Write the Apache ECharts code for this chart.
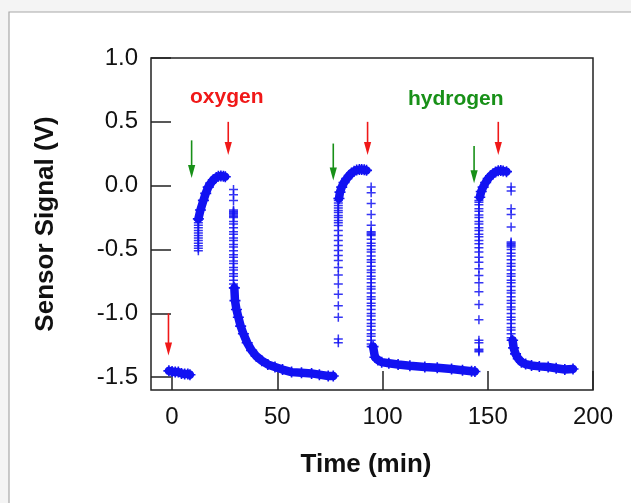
<!DOCTYPE html>
<html>
<head>
<meta charset="utf-8">
<script src="https://cdn.jsdelivr.net/npm/echarts@6/dist/echarts.min.js"></script>
<style>
html, body { margin: 0; padding: 0; background: #f4f4f4; }
#main { width: 631px; height: 503px; }
</style>
</head>
<body>
<div id="main"></div>
<script>
// axis ranges / ticks
var timeMin = -10, timeMax = 200;
var signalMin = -1.6, signalMax = 1.0;
var xTicks = [0, 50, 100, 150, 200];
var yTicks = [-1.5, -1.0, -0.5, 0.0, 0.5, 1.0];

// dense parts of the trace, [time (min), signal (V)]
var band1 = [[-1.5, -1.45], [0, -1.455], [1.5, -1.46], [3, -1.46], [4.5, -1.47], [6, -1.475], [7.5, -1.475], [8.5, -1.48]];
var band2 = [[12.5, -0.26], [13.5, -0.19], [14.9, -0.115], [16, -0.06], [17.2, -0.011], [18.4, 0.02], [19.6, 0.047], [21, 0.064], [22, 0.073], [23.2, 0.076], [24.4, 0.073], [25.3, 0.07]];
var band3 = [[29.6, -0.80], [29.9, -0.90], [30.6, -0.97], [31.5, -1.03], [32.6, -1.10], [33.9, -1.16], [35.7, -1.23], [37.8, -1.29], [40, -1.335], [42.6, -1.37], [45.5, -1.40], [48.9, -1.42], [52.5, -1.44], [56.8, -1.46], [61.5, -1.465], [66.3, -1.47], [70, -1.48], [74.2, -1.49], [76.6, -1.49]];
var band4 = [[79.3, -0.10], [79.8, -0.05], [80.6, -0.011], [81.7, 0.025], [83, 0.055], [84.2, 0.08], [85.3, 0.099], [86.5, 0.113], [87.7, 0.122], [89, 0.126], [90.1, 0.126], [91.3, 0.124], [92.4, 0.12]];
var band5 = [[95.5, -1.26], [96.4, -1.343], [97.8, -1.365], [99.6, -1.382], [103, -1.39], [107.4, -1.40], [113, -1.41], [120.1, -1.42], [126, -1.425], [132.8, -1.435], [138, -1.445], [142.3, -1.453], [143.9, -1.455]];
var band6 = [[146.2, -0.09], [146.9, -0.045], [147.8, -0.011], [149, 0.025], [150.2, 0.055], [151.3, 0.077], [152.5, 0.094], [153.7, 0.108], [155, 0.117], [156.2, 0.118], [157.3, 0.115], [158.9, 0.11]];
var band7 = [[161.8, -1.21], [162.3, -1.27], [163.2, -1.317], [164.5, -1.355], [166, -1.382], [168, -1.397], [170.8, -1.408], [174.5, -1.415], [178.7, -1.42], [182.5, -1.43], [186.6, -1.44], [190.5, -1.435]];

// single "+" marks in the fast steps, time of each column and its signal values
var step1Time = 12.5;
var step1 = [-0.51, -0.49, -0.47, -0.45, -0.43, -0.41, -0.39, -0.37, -0.35, -0.33, -0.31, -0.29, -0.27];
var step2Time = 29.2;
var step2 = [-0.03, -0.07, -0.115, -0.19, -0.20, -0.21, -0.22, -0.23, -0.24, -0.25, -0.28, -0.30, -0.33, -0.36, -0.38, -0.41, -0.43, -0.46, -0.48, -0.51, -0.54, -0.56, -0.59, -0.61, -0.64, -0.66, -0.69, -0.71, -0.74, -0.77, -0.80];
var step3Time = 79;
var step3 = [-1.23, -1.20, -1.03, -0.94, -0.85, -0.77, -0.70, -0.64, -0.585, -0.546, -0.507, -0.468, -0.429, -0.39, -0.35, -0.311, -0.29, -0.272, -0.25, -0.233, -0.21, -0.194, -0.175, -0.155, -0.135, -0.115, -0.10];
var step4Time = 94.6;
var step4 = [-0.01, -0.055, -0.14, -0.225, -0.31, -0.36, -0.37, -0.38, -0.39, -0.42, -0.45, -0.47, -0.50, -0.52, -0.55, -0.58, -0.60, -0.63, -0.66, -0.68, -0.71, -0.73, -0.76, -0.79, -0.81, -0.84, -0.87, -0.89, -0.92, -0.94, -0.97, -1.00, -1.02, -1.05, -1.08, -1.10, -1.13, -1.16, -1.18, -1.21, -1.24, -1.26];
var step5Time = 145.8;
var step5 = [-1.30, -1.29, -1.28, -1.23, -1.21, -1.05, -0.93, -0.83, -0.76, -0.703, -0.651, -0.599, -0.56, -0.52, -0.486, -0.455, -0.429, -0.40, -0.38, -0.35, -0.33, -0.30, -0.28, -0.25, -0.23, -0.20, -0.18, -0.15, -0.13, -0.115];
var step6Time = 161.1;
var step6 = [-0.01, -0.042, -0.18, -0.225, -0.324, -0.44, -0.45, -0.46, -0.47, -0.48, -0.50, -0.53, -0.55, -0.58, -0.61, -0.63, -0.66, -0.69, -0.71, -0.74, -0.76, -0.79, -0.82, -0.84, -0.87, -0.90, -0.92, -0.95, -0.97, -1.00, -1.03, -1.05, -1.08, -1.11, -1.13, -1.16, -1.19, -1.21];

// gas switching arrows
var arrowTime = [-1.7, 9.3, 26.7, 76.6, 92.9, 143.5, 155];
var arrowFrom = [-1.0, 0.355, 0.50, 0.33, 0.50, 0.31, 0.50];
var arrowTo = [-1.33, 0.06, 0.24, 0.04, 0.24, 0.02, 0.24];
var arrowGas = ['oxygen', 'hydrogen', 'oxygen', 'hydrogen', 'oxygen', 'hydrogen', 'oxygen'];

// gas labels
var gasNames = ['oxygen', 'hydrogen'];
var gasLabelTime = [26, 134.8];
var gasLabelSignal = [0.69, 0.674];
var gasColors = {oxygen: '#f01818', hydrogen: '#189018'};

var traceColor = '#1212f2';
var plusPath = 'path://M4,0L4,8M0,4L8,4';

var dom = document.getElementById('main');
var myChart = echarts.init(dom);

function column(t, values) {
    var out = [];
    for (var i = 0; i < values.length; i++) {
        out.push([t, values[i]]);
    }
    return out;
}

function bandSeries(data) {
    return {
        type: 'line',
        data: data,
        symbol: plusPath,
        symbolSize: 11,
        showSymbol: true,
        itemStyle: {color: traceColor, borderColor: traceColor, borderWidth: 1.6},
        lineStyle: {color: traceColor, width: 8.5, cap: 'round', join: 'round'},
        animation: false,
        z: 3
    };
}

var steps = [].concat(
    column(step1Time, step1),
    column(step2Time, step2),
    column(step3Time, step3),
    column(step4Time, step4),
    column(step5Time, step5),
    column(step6Time, step6)
);

var arrowData = [];
for (var i = 0; i < arrowTime.length; i++) {
    arrowData.push([arrowTime[i], arrowFrom[i], arrowTo[i], i]);
}
var labelData = [];
for (var j = 0; j < gasNames.length; j++) {
    labelData.push([gasLabelTime[j], gasLabelSignal[j], j]);
}

var series = [band1, band2, band3, band4, band5, band6, band7].map(bandSeries);
series.push({
    type: 'scatter',
    data: steps,
    symbol: plusPath,
    symbolSize: 9,
    itemStyle: {color: traceColor, borderColor: traceColor, borderWidth: 1.5, opacity: 0.85},
    animation: false,
    z: 3
});
series.push({
    type: 'custom',
    data: arrowData,
    encode: {x: 0, y: [1, 2]},
    clip: false,
    animation: false,
    z: 4,
    renderItem: function (params, api) {
        var idx = api.value(3);
        var p0 = api.coord([api.value(0), api.value(1)]);
        var p1 = api.coord([api.value(0), api.value(2)]);
        var col = gasColors[arrowGas[idx]];
        var head = 13, half = 3.6;
        return {
            type: 'group',
            children: [{
                type: 'line',
                shape: {x1: p0[0], y1: p0[1], x2: p1[0], y2: p1[1] - head + 1},
                style: {stroke: col, lineWidth: 1.6}
            }, {
                type: 'polygon',
                shape: {points: [[p1[0], p1[1]], [p1[0] - half, p1[1] - head], [p1[0] + half, p1[1] - head]]},
                style: {fill: col}
            }]
        };
    }
});
series.push({
    type: 'custom',
    data: labelData,
    encode: {x: 0, y: 1},
    clip: false,
    animation: false,
    z: 4,
    renderItem: function (params, api) {
        var k = api.value(2);
        var p = api.coord([api.value(0), api.value(1)]);
        return {
            type: 'text',
            x: p[0],
            y: p[1],
            style: {
                text: gasNames[k],
                fill: gasColors[gasNames[k]],
                font: 'bold 21px "Liberation Sans", Arial, sans-serif',
                align: 'center',
                verticalAlign: 'middle'
            }
        };
    }
});

var option = {
    backgroundColor: '#f4f4f4',
    animation: false,
    graphic: [{
        type: 'rect',
        z: -100,
        silent: true,
        shape: {x: 9, y: 12, width: 640, height: 500},
        style: {fill: '#ffffff', stroke: '#a8a8a8', lineWidth: 1.2}
    }],
    grid: {
        left: 151,
        top: 58,
        right: 38,
        bottom: 113,
        show: true,
        backgroundColor: 'transparent',
        borderColor: '#222',
        borderWidth: 1.5
    },
    xAxis: {
        type: 'value',
        min: timeMin,
        max: timeMax,
        name: 'Time (min)',
        nameLocation: 'middle',
        nameGap: 62,
        nameTextStyle: {
            fontFamily: '"Liberation Sans", Arial, sans-serif',
            fontWeight: 'bold',
            fontSize: 26,
            color: '#111',
            padding: [0, 12, 0, 0]
        },
        axisLine: {show: false, onZero: false},
        splitLine: {show: false},
        axisTick: {
            show: true,
            inside: true,
            length: 19,
            customValues: xTicks,
            lineStyle: {color: '#222', width: 1.5}
        },
        axisLabel: {
            customValues: xTicks,
            margin: 15,
            fontFamily: '"Liberation Sans", Arial, sans-serif',
            fontSize: 24,
            color: '#111'
        }
    },
    yAxis: {
        type: 'value',
        min: signalMin,
        max: signalMax,
        name: 'Sensor Signal (V)',
        nameLocation: 'middle',
        nameGap: 92,
        nameTextStyle: {
            fontFamily: '"Liberation Sans", Arial, sans-serif',
            fontWeight: 'bold',
            fontSize: 26,
            color: '#111'
        },
        axisLine: {show: false, onZero: false},
        splitLine: {show: false},
        axisTick: {
            show: true,
            inside: true,
            length: 20,
            customValues: yTicks,
            lineStyle: {color: '#222', width: 1.5}
        },
        axisLabel: {
            customValues: yTicks,
            margin: 13,
            fontFamily: '"Liberation Sans", Arial, sans-serif',
            fontSize: 24,
            color: '#111',
            formatter: function (v) { return v.toFixed(1); }
        }
    },
    series: series
};

if (option && typeof option === "object") {
    myChart.setOption(option, true);
}
</script>
</body>
</html>
